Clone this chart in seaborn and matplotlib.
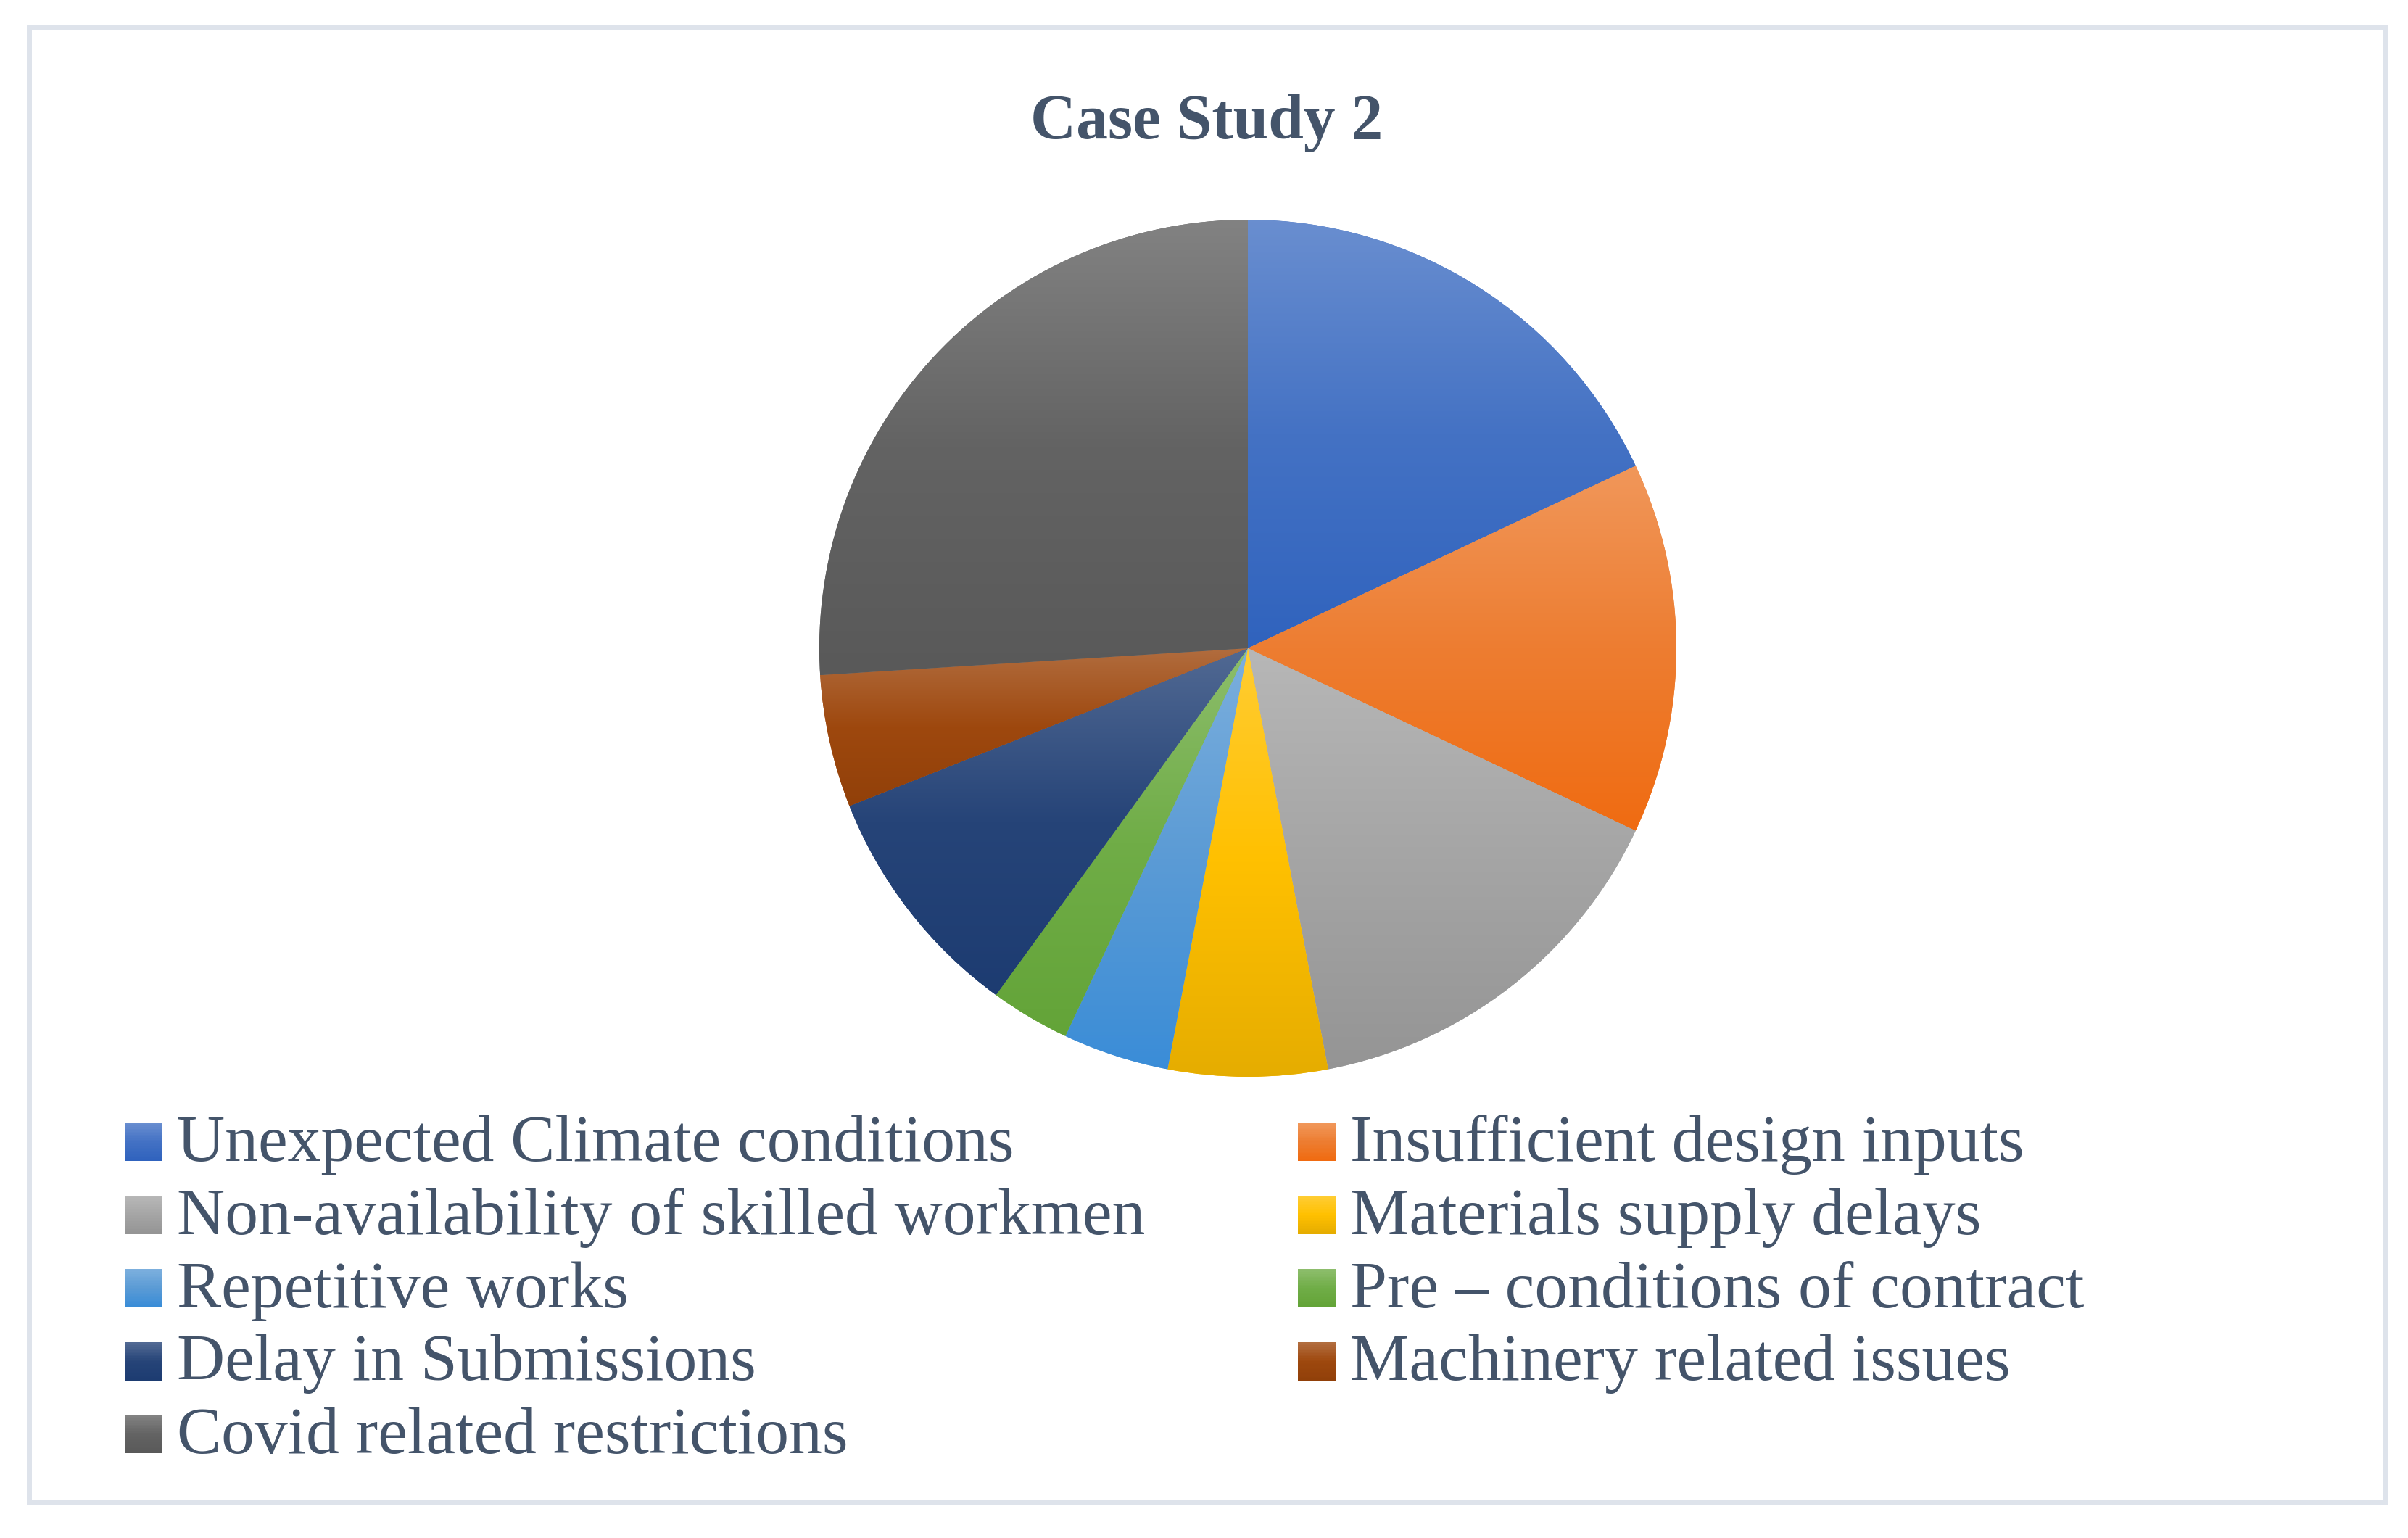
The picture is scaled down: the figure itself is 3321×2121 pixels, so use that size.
import colorsys

import numpy as np
import seaborn as sns
import matplotlib
matplotlib.use("Agg")
import matplotlib.pyplot as plt
from matplotlib.patches import Patch, Rectangle
from matplotlib.legend_handler import HandlerBase

# ---- data ----
categories = [
    "Unexpected Climate conditions",
    "Insufficient design inputs",
    "Non-availability of skilled workmen",
    "Materials supply delays",
    "Repetitive works",
    "Pre \u2013 conditions of contract",
    "Delay in Submissions",
    "Machinery related issues",
    "Covid related restrictions",
]
values = [18, 14, 15, 6, 4, 3, 9, 5, 26]
base_colors = ["#4472C4", "#ED7D31", "#A5A5A5", "#FFC000", "#5B9BD5",
               "#70AD47", "#264478", "#9E480E", "#636363"]
title = "Case Study 2"

TEXT_COLOR = "#44546A"
W, H = 3321, 2121

sns.set_theme(style="white")
plt.rcParams["font.family"] = ["Liberation Serif", "DejaVu Serif"]


def gradient_colors(c, n=64):
    """light tint on top, base colour in the middle, deeper shade at the bottom"""
    rgb = np.array(matplotlib.colors.to_rgb(c))
    top = rgb + (1 - rgb) * 0.2
    h, l, s = colorsys.rgb_to_hls(*rgb)
    bottom = colorsys.hls_to_rgb(h, l * 0.9, min(1.0, s * (1 + 0.3 * (1 - s))))
    return sns.blend_palette([top, rgb, bottom], n_colors=n)


class GradientHandler(HandlerBase):
    def create_artists(self, legend, orig_handle, xdescent, ydescent,
                       width, height, fontsize, trans):
        cols = orig_handle.grad
        n = len(cols)
        side = 0.57 * fontsize
        arts = []
        for k, c in enumerate(cols):
            y = side * (1 - (k + 1) / n)
            r = Rectangle((0, y), side, side / n * 1.2, facecolor=c,
                          edgecolor="none", transform=trans)
            arts.append(r)
        return arts


fig = plt.figure(figsize=(W / 100, H / 100), dpi=100)

# chart border
fig.patches.append(Rectangle((39.5 / W, 1 - 2071.5 / H), (3289.5 - 39.5) / W,
                             (2071.5 - 37.5) / H, transform=fig.transFigure,
                             fill=False, edgecolor="#DEE3EB", linewidth=5.0))

fig.text(1664 / W, 1 - 191 / H, title, ha="center", va="baseline",
         fontsize=63, fontweight="bold", color=TEXT_COLOR)

# ---- pie ----
cx, cy, r = 1721, 894, 591
ax = fig.add_axes([(cx - r) / W, 1 - (cy + r) / H, 2 * r / W, 2 * r / H])
wedges, _ = ax.pie(values, colors=base_colors, startangle=90,
                   counterclock=False, radius=1,
                   wedgeprops=dict(linewidth=0))

for w, c in zip(wedges, base_colors):
    ext = w.get_path().get_extents()
    grad = np.array(gradient_colors(c, 256)).reshape(256, 1, 3)
    im = ax.imshow(grad, extent=[ext.x0, ext.x1, ext.y0, ext.y1],
                   origin="upper", aspect="auto", interpolation="bilinear",
                   zorder=w.get_zorder() + 0.1)
    im.set_clip_path(w)

ax.set_xlim(-1, 1)
ax.set_ylim(-1, 1)
ax.set_aspect("auto")
ax.axis("off")

# ---- legend, two columns filled row-wise ----
handles = []
for c, lab in zip(base_colors, categories):
    p = Patch(facecolor=c, label=lab)
    p.grad = gradient_colors(c, 24)
    handles.append(p)

leg_kw = dict(loc="upper left", frameon=False, fontsize=66,
              labelcolor=TEXT_COLOR, handlelength=0.57, handleheight=0.57,
              handletextpad=0.22, labelspacing=0.2, borderpad=0,
              borderaxespad=0, handler_map={Patch: GradientHandler()})
top_y = 1 - 1537 / H
col1 = [handles[i] for i in range(0, 9, 2)]
col2 = [handles[i] for i in range(1, 9, 2)]
fig.legend(handles=col1, labels=[h.get_label() for h in col1],
           bbox_to_anchor=(172 / W, top_y), **leg_kw)
fig.legend(handles=col2, labels=[h.get_label() for h in col2],
           bbox_to_anchor=(1790 / W, top_y), **leg_kw)

fig.savefig("out.png", dpi=100, facecolor="white")
